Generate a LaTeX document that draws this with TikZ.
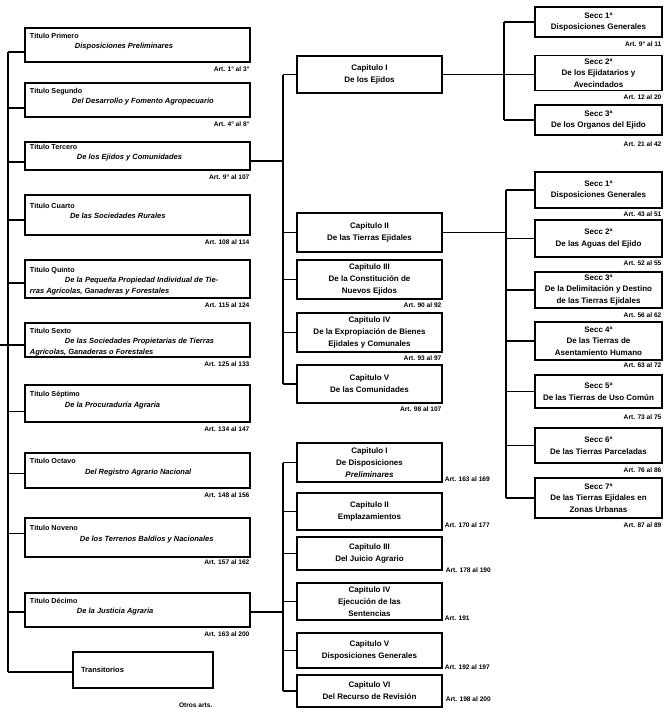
\documentclass[tikz,border=0pt]{standalone}
\usepackage{fontspec}
\setmainfont{Liberation Sans}
\newcommand\lefttext[3]{\parbox[c][24pt][t]{215pt}{\fontsize{7.2}{10.5}\selectfont\bfseries #1\par\fontsize{7.5}{10.5}\selectfont\itshape\hspace*{#2}#3}}
\begin{document}
\begin{tikzpicture}[x=1pt,y=-1pt,
  lbox/.style={draw, line width=1.2pt, minimum width=225pt, inner sep=0pt},
  mbox/.style={draw, line width=1.2pt, minimum width=145pt, align=center, inner sep=1pt,
    font=\fontsize{8}{12}\selectfont\bfseries},
  rbox/.style={draw, line width=1.2pt, minimum width=127pt, align=center, inner sep=1pt,
    font=\fontsize{8}{11.5}\selectfont\bfseries},
  artl/.style={inner sep=1pt, font=\fontsize{6.6}{7}\selectfont\bfseries},
  conn/.style={line width=1.2pt}]
\useasboundingbox (0,0) rectangle (665,713);
\fill[white] (0,0) rectangle (665,713);

% ---------- left column: Titulos ----------
\node[lbox, minimum height=34pt] (t1) at (137.5,45) {\lefttext{Titulo Primero}{45pt}{Disposiciones Preliminares}};
\node[lbox, minimum height=34pt] (t2) at (137.5,100) {\lefttext{Titulo Segundo}{42pt}{Del Desarrollo y Fomento Agropecuario}};
\node[lbox, minimum height=28pt] (t3) at (137.5,156) {\lefttext{Titulo Tercero}{47pt}{De los Ejidos y Comunidades}};
\node[lbox, minimum height=40pt] (t4) at (137.5,215) {\lefttext{Titulo Cuarto}{40pt}{De las Sociedades Rurales}};
\node[lbox, minimum height=38pt] (t5) at (137.5,279) {\lefttext{Titulo Quinto}{35pt}{De la Pequeña Propiedad Individual de Tie-\\rras Agrícolas, Ganaderas y Forestales}};
\node[lbox, minimum height=34pt] (t6) at (137.5,340) {\lefttext{Titulo Sexto}{35pt}{De las Sociedades Propietarias de Tierras\\Agrícolas, Ganaderas o Forestales}};
\node[lbox, minimum height=37pt] (t7) at (137.5,403.5) {\lefttext{Titulo Séptimo}{35pt}{De la Procuraduría Agraria}};
\node[lbox, minimum height=35pt] (t8) at (137.5,470.5) {\lefttext{Titulo Octavo}{55pt}{Del Registro Agrario Nacional}};
\node[lbox, minimum height=39pt] (t9) at (137.5,537.5) {\lefttext{Titulo Noveno}{50pt}{De los Terrenos Baldíos y Nacionales}};
\node[lbox, minimum height=34pt] (t10) at (137.5,610) {\lefttext{Titulo Décimo}{47pt}{De la Justicia Agraria}};
\node[draw, line width=1.2pt, minimum width=140pt, minimum height=36pt, inner sep=0pt] (tr) at (143,670)
  {\parbox{124pt}{\fontsize{7.5}{9}\selectfont\bfseries Transitorios}};

\node[artl, anchor=north east, yshift=-3pt] (a1) at (t1.south east) {Art. 1° al 3°};
\node[artl, anchor=north east, yshift=-3pt] (a2) at (t2.south east) {Art. 4° al 8°};
\node[artl, anchor=north east, yshift=-3pt] (a3) at (t3.south east) {Art. 9° al 107};
\node[artl, anchor=north east, yshift=-3pt] (a4) at (t4.south east) {Art. 108 al 114};
\node[artl, anchor=north east, yshift=-3pt] (a5) at (t5.south east) {Art. 115 al 124};
\node[artl, anchor=north east, yshift=-3pt] (a6) at (t6.south east) {Art. 125 al 133};
\node[artl, anchor=north east, yshift=-3pt] (a7) at (t7.south east) {Art. 134 al 147};
\node[artl, anchor=north east, yshift=-3pt] (a8) at (t8.south east) {Art. 148 al 156};
\node[artl, anchor=north east, yshift=-1pt] (a9) at (t9.south east) {Art. 157 al 162};
\node[artl, anchor=north east, yshift=-3pt] (a10) at (t10.south east) {Art. 163 al 200};
\node[artl, anchor=north east, yshift=-13pt] (atr) at (tr.south east) {Otros arts.};

% left spine
\coordinate (ls) at (8,0);
\coordinate (root) at (0,345);
\draw[conn] ([yshift=-7pt]t1.west -| ls) -- ([yshift=-2pt]tr.west -| ls);
\draw[conn] (root) -- (root -| ls);
\foreach \n/\d in {t1/7,t2/8,t3/6,t4/5,t5/4,t6/5,t7/8,t8/3,t9/-4,t10/2,tr/2}
  \draw[conn] ([yshift=-\d pt]\n.west) -- ([yshift=-\d pt]\n.west -| ls);

% ---------- middle column: Capitulos of Titulo Tercero ----------
\node[mbox, minimum height=37pt] (c1) at (369.5,74.5) {Capitulo I\\De los Ejidos};
\node[mbox, minimum height=39pt] (c2) at (369.5,232.5) {Capitulo II\\De las Tierras Ejidales};
\node[mbox, minimum height=39pt] (c3) at (369.5,279.5) {Capitulo III\\De la Constitución de\\Nuevos Ejidos};
\node[mbox, minimum height=39pt] (c4) at (369.5,332.5) {Capitulo IV\\De la Expropiación de Bienes\\Ejidales y Comunales};
\node[mbox, minimum height=38pt] (c5) at (369.5,384) {Capitulo V\\De las Comunidades};
\node[artl, anchor=north east, yshift=-2pt] (ac3) at (c3.south east) {Art. 90 al 92};
\node[artl, anchor=north east, yshift=-2pt] (ac4) at (c4.south east) {Art. 93 al 97};
\node[artl, anchor=north east, yshift=-2pt] (ac5) at (c5.south east) {Art. 98 al 107};

\coordinate (ms) at (283,0);
\draw[conn] ([yshift=-5pt]t3.east) -- ([yshift=-5pt]t3.east -| ms);
\draw[conn] (c1.west -| ms) -- (c5.west -| ms);
\foreach \n in {c1,c2,c3,c4,c5}
  \draw[conn] (\n.west) -- (\n.west -| ms);

% ---------- middle column: Capitulos of Titulo Decimo ----------
\node[mbox, minimum height=39pt] (d1) at (369.5,462.5) {Capitulo I\\De Disposiciones\\\textit{Preliminares}};
\node[mbox, minimum height=37pt] (d2) at (369.5,511.5) {Capitulo II\\Emplazamientos};
\node[mbox, minimum height=33pt] (d3) at (369.5,553.5) {Capitulo III\\Del Juicio Agrario};
\node[mbox, minimum height=37pt] (d4) at (369.5,601.5) {Capitulo IV\\Ejecución de las\\Sentencias};
\node[mbox, minimum height=35pt] (d5) at (369.5,650.5) {Capitulo V\\Disposiciones Generales};
\node[mbox, minimum height=32pt] (d6) at (369.5,691) {Capitulo VI\\Del Recurso de Revisión};
\node[artl, anchor=south west, xshift=1pt] (ad1) at (d1.south east) {Art. 163 al 169};
\node[artl, anchor=south west, xshift=1pt, yshift=2pt] (ad2) at (d2.south east) {Art. 170 al 177};
\node[artl, anchor=south west, xshift=2pt, yshift=-3pt] (ad3) at (d3.south east) {Art. 178 al 190};
\node[artl, anchor=south west, xshift=1pt, yshift=-1pt] (ad4) at (d4.south east) {Art. 191};
\node[artl, anchor=south west, xshift=1pt, yshift=-2pt] (ad5) at (d5.south east) {Art. 192 al 197};
\node[artl, anchor=south west, xshift=2pt, yshift=5pt] (ad6) at (d6.south east) {Art. 198 al 200};

\draw[conn] ([yshift=-2pt]t10.east) -- ([yshift=-2pt]t10.east -| ms);
\draw[conn] (d1.west -| ms) -- (d6.west -| ms);
\foreach \n in {d1,d2,d3,d4,d5,d6}
  \draw[conn] (\n.west) -- (\n.west -| ms);

% ---------- right column: Secciones of Capitulo I ----------
\node[rbox, minimum height=30pt] (s11) at (598.5,22) {Secc 1ª\\Disposiciones Generales};
\node[rbox, minimum height=35pt] (s12) at (598.5,73) {Secc 2ª\\De los Ejidatarios y\\Avecindados};
\node[rbox, minimum height=30pt] (s13) at (598.5,120) {Secc 3ª\\De los Organos del Ejido};
\node[artl, anchor=north east, yshift=-3pt] (as11) at (s11.south east) {Art. 9° al 11};
\node[artl, anchor=north east, yshift=-2pt] (as12) at (s12.south east) {Art. 12 al 20};
\node[artl, anchor=north east, yshift=-5pt] (as13) at (s13.south east) {Art. 21 al 42};

\coordinate (rs1) at (504,0);
\draw[conn] (c1.east) -- (c1.east -| s12.west);
\draw[conn] (s11.west -| rs1) -- (s13.west -| rs1);
\foreach \n in {s11,s13}
  \draw[conn] (\n.west) -- (\n.west -| rs1);

% ---------- right column: Secciones of Capitulo II ----------
\node[rbox, minimum height=36pt] (s21) at (598.5,190) {Secc 1ª\\Disposiciones Generales};
\node[rbox, minimum height=37pt] (s22) at (598.5,238.5) {Secc 2ª\\De las Aguas del Ejido};
\node[rbox, minimum height=36pt] (s23) at (598.5,290) {Secc 3ª\\De la Delimitación y Destino\\de las Tierras Ejidales};
\node[rbox, minimum height=38pt] (s24) at (598.5,341) {Secc 4ª\\De las Tierras de\\Asentamiento Humano};
\node[rbox, minimum height=33pt] (s25) at (598.5,391.5) {Secc 5ª\\De las Tierras de Uso Común};
\node[rbox, minimum height=35pt] (s26) at (598.5,445.5) {Secc 6ª\\De las Tierras Parceladas};
\node[rbox, minimum height=40pt] (s27) at (598.5,498) {Secc 7ª\\De las Tierras Ejidales en\\Zonas Urbanas};
\node[artl, anchor=north east, yshift=-2pt] (as21) at (s21.south east) {Art. 43 al 51};
\node[artl, anchor=north east, yshift=-2pt] (as22) at (s22.south east) {Art. 52 al 55};
\node[artl, anchor=north east, yshift=-3pt] (as23) at (s23.south east) {Art. 56 al 62};
\node[artl, anchor=north east, yshift=-1pt] (as24) at (s24.south east) {Art. 63 al 72};
\node[artl, anchor=north east, yshift=-5pt] (as25) at (s25.south east) {Art. 73 al 75};
\node[artl, anchor=north east, yshift=-3pt] (as26) at (s26.south east) {Art. 76 al 86};
\node[artl, anchor=north east, yshift=-3pt] (as27) at (s27.south east) {Art. 87 al 89};

\coordinate (rs2) at (506,0);
\draw[conn] (c2.east) -- (c2.east -| rs2);
\draw[conn] (s21.west -| rs2) -- (s27.west -| rs2);
\foreach \n in {s21,s22,s23,s24,s25,s26,s27}
  \draw[conn] (\n.west) -- (\n.west -| rs2);
\end{tikzpicture}
\end{document}
